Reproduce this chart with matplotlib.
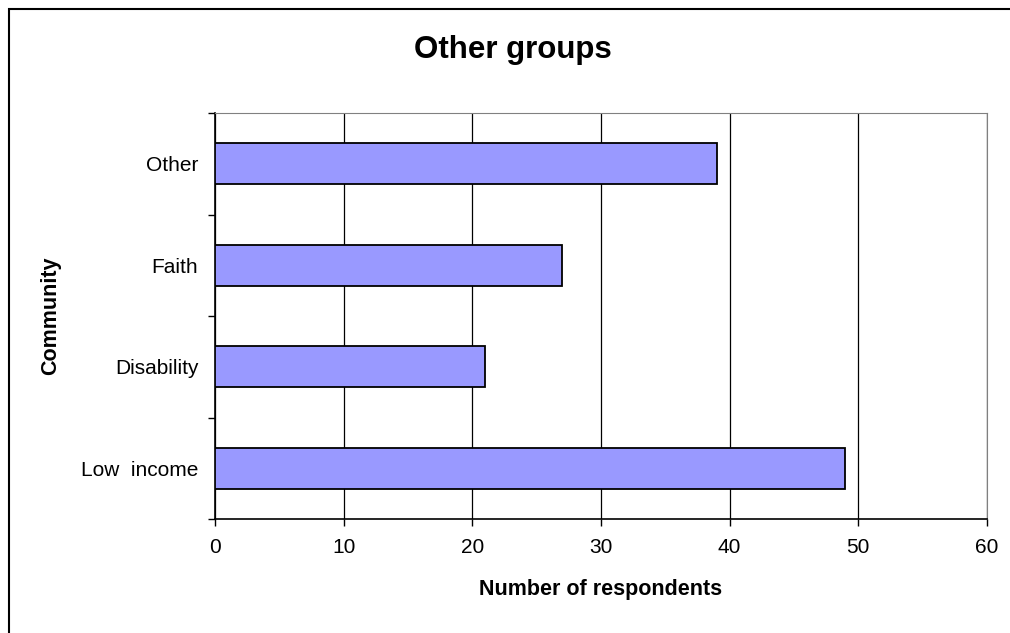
import matplotlib.pyplot as plt
from matplotlib.patches import Rectangle

# categories bottom to top
categories = ['Low  income', 'Disability', 'Faith', 'Other']
respondents = [49, 21, 27, 39]
xticks = [0, 10, 20, 30, 40, 50, 60]

plt.rcParams['font.family'] = 'Liberation Sans'

fig = plt.figure(figsize=(10.10, 6.33), dpi=100)
ax = fig.add_axes([215 / 1010, 1 - 519 / 633, 772 / 1010, 406 / 633])

pos = list(range(len(categories)))
ax.barh(pos, respondents, height=0.4, color='#9999ff', edgecolor='black',
        linewidth=1.3, zorder=3)

ax.set_xlim(0, 60)
ax.set_ylim(-0.5, len(categories) - 0.5)
ax.set_xticks(xticks)
ax.set_xticklabels([str(t) for t in xticks], fontsize=15)
ax.set_yticks(pos)
ax.set_yticklabels(categories, fontsize=15)
ax.set_yticks([p - 0.5 for p in pos] + [len(categories) - 0.5], minor=True)
ax.tick_params(axis='y', which='major', length=0, pad=12)
ax.tick_params(axis='y', which='minor', length=5, width=1, direction='out')
ax.tick_params(axis='x', length=5, width=1, direction='out', pad=9)
ax.grid(axis='x', color='black', linewidth=0.9, zorder=0)

for side in ['top', 'right']:
    ax.spines[side].set_color('#808080')
for side in ['left', 'bottom']:
    ax.spines[side].set_color('black')
    ax.spines[side].set_linewidth(1.2)

ax.set_xlabel('Number of respondents', fontsize=15.5, fontweight='bold', va='center')
ax.xaxis.set_label_coords(0.5, (519 - 590) / 406)
ax.set_ylabel('Community', fontsize=15.5, fontweight='bold', va='center')
ax.yaxis.set_label_coords((51 - 215) / 772, 0.5)
fig.text(513 / 1010, 1 - 50 / 633, 'Other groups', fontsize=22.5,
         fontweight='bold', ha='center', va='center')

# chart area border
fig.patches.append(Rectangle((9 / 1010, -0.1), 1.2, (633 - 9) / 633 + 0.1,
                             transform=fig.transFigure, fill=False,
                             edgecolor='black', linewidth=1.5))

fig.savefig('out.png', dpi=100)
